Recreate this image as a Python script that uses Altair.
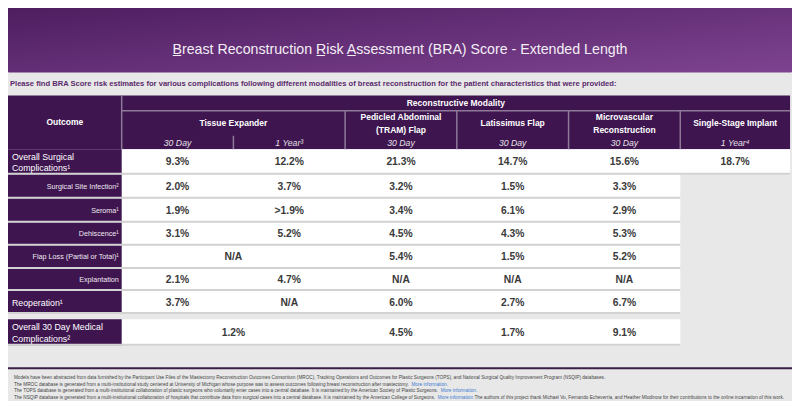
import altair as alt
import pandas as pd

# ------------------------------------------------------------------ data
title_text = ("B\u0332reast Reconstruction R\u0332isk A\u0332ssessment "
              "(BRA) Score - Extended Length")
subtitle_text = ("Please find BRA Score risk estimates for various complications following "
                 "different modalities of breast reconstruction for the patient "
                 "characteristics that were provided:")
outcome_header = "Outcome"
group_header = "Reconstructive Modality"
modalities = ["Tissue Expander", "Pedicled Abdominal\n(TRAM) Flap", "Latissimus Flap",
              "Microvascular\nReconstruction", "Single-Stage Implant"]
modality_columns = [2, 1, 1, 1, 1]          # how many time-frame columns each modality has
timeframes = ["30 Day", "1 Year\u00b3", "30 Day", "30 Day", "30 Day", "1 Year\u2074"]

outcomes = ["Overall Surgical\nComplications\u00b9", "Surgical Site Infection\u00b2",
            "Seroma\u00b9", "Dehiscence\u00b9", "Flap Loss (Partial or Total)\u00b9",
            "Explantation", "Reoperation\u00b9", "Overall 30 Day Medical\nComplications\u00b2"]
outcome_is_sub = [False, True, True, True, True, True, False, False]

# None in the 1-year column = merged with the 30-day cell; None elsewhere = no cell
tissue_expander_30d = ["9.3%", "2.0%", "1.9%", "3.1%", "N/A", "2.1%", "3.7%", "1.2%"]
tissue_expander_1y = ["12.2%", "3.7%", ">1.9%", "5.2%", None, "4.7%", "N/A", None]
pedicled_tram_30d = ["21.3%", "3.2%", "3.4%", "4.5%", "5.4%", "N/A", "6.0%", "4.5%"]
latissimus_30d = ["14.7%", "1.5%", "6.1%", "4.3%", "1.5%", "N/A", "2.7%", "1.7%"]
microvascular_30d = ["15.6%", "3.3%", "2.9%", "5.3%", "5.2%", "N/A", "6.7%", "9.1%"]
single_stage_1y = ["18.7%", None, None, None, None, None, None, None]

footnotes = [
    "Models have been abstracted from data furnished by the Participant Use Files of the Mastectomy "
    "Reconstruction Outcomes Consortium (MROC), Tracking Operations and Outcomes for Plastic Surgeons "
    "(TOPS), and National Surgical Quality Improvement Program (NSQIP) databases.",
    "The MROC database is generated from a multi-institutional study centered at University of Michigan "
    "whose purpose was to assess outcomes following breast reconstruction after mastectomy. ",
    "The TOPS database is generated from a multi-institutional collaboration of plastic surgeons who "
    "voluntarily enter cases into a central database. It is maintained by the American Society of "
    "Plastic Surgeons. ",
    "The NSQIP database is generated from a multi-institutional collaboration of hospitals that "
    "contribute data from surgical cases into a central database. It is maintained by the American "
    "College of Surgeons. ",
]
footnote_links = ["", "More information.", "More information.", "More information"]
footnote_tails = ["", "", "", " The authors of this project thank Michael Vu, Fernando Echeverria, "
                  "and Heather Mlodinow for their contributions to the online incarnation of this work."]

# ------------------------------------------------------------------ layout / style
FONT = "Liberation Sans, Arial, sans-serif"
PURPLE = "#3e154f"
BG = "#e8e8e8"
col_edges = [0, 116, 230, 344, 458, 572, 686, 798]
hdr_top, hdr_mid, hdr_sub, hdr_bot = 91, 107, 131, 147
row_top = [147, 173, 198, 223, 247, 271, 294, 324]
row_bot = [173, 198, 223, 247, 271, 294, 318, 351]

# layout is given in the reference picture's 800x409 frame
W, H = 784, 393
xs = alt.Scale(domain=[0, 800], nice=False, zero=False)
ys = alt.Scale(domain=[0, 409], nice=False, zero=False, reverse=True)
XK = W / 800.0

# Arial / Liberation Sans advance widths (1/1000 em), used to place the blue link texts
_AW = {" ": 278, "(": 333, ")": 333, ",": 278, "-": 333, ".": 278, ":": 278,
       "A": 667, "B": 667, "C": 722, "D": 722, "E": 667, "F": 611, "G": 778, "H": 722, "I": 278,
       "J": 500, "K": 667, "L": 556, "M": 833, "N": 722, "O": 778, "P": 667, "Q": 778, "R": 722,
       "S": 667, "T": 611, "U": 722, "V": 667, "W": 944, "X": 667, "Y": 667, "Z": 611,
       "a": 556, "b": 556, "c": 500, "d": 556, "e": 556, "f": 278, "g": 556, "h": 556, "i": 222,
       "j": 222, "k": 500, "l": 222, "m": 833, "n": 556, "o": 556, "p": 556, "q": 556, "r": 333,
       "s": 500, "t": 278, "u": 556, "v": 500, "w": 722, "x": 500, "y": 500, "z": 500}


def text_width(s, size):
    return sum(_AW.get(ch, 556) for ch in s) / 1000.0 * size


def enc_box():
    return dict(x=alt.X("x:Q", scale=xs, axis=None), x2="x2:Q",
                y=alt.Y("y:Q", scale=ys, axis=None), y2="y2:Q")


def enc_pt():
    return dict(x=alt.X("x:Q", scale=xs, axis=None), y=alt.Y("y:Q", scale=ys, axis=None))


def mid(a, b):
    return (a + b) / 2


def block_y(center, text, lh):
    # vega puts the first line at y; shift so the whole block is centred
    n = text.count("\n") + 1
    return center - (n - 1) * lh / 2


HDR_LH = 12.5
LAB_LH = 11.5
FOOT_SIZE = 4.7

# rectangles
rects = [dict(x=0, x2=col_edges[-1], y=hdr_top, y2=hdr_bot, c=PURPLE)]
columns = [tissue_expander_30d, tissue_expander_1y, pedicled_tram_30d,
           latissimus_30d, microvascular_30d, single_stage_1y]
value_rows = []
for r in range(len(outcomes)):
    right = col_edges[7] if single_stage_1y[r] is not None else col_edges[6]
    rects.append(dict(x=col_edges[1], x2=right, y=row_top[r], y2=row_bot[r], c="#ffffff"))
    rects.append(dict(x=0, x2=col_edges[1], y=row_top[r], y2=row_bot[r], c=PURPLE))
    for ci, col in enumerate(columns):
        v = col[r]
        if v is None:
            continue
        a, b = col_edges[ci + 1], col_edges[ci + 2]
        if ci == 0 and tissue_expander_1y[r] is None:
            b = col_edges[3]
        value_rows.append(dict(x=mid(a, b), y=mid(row_top[r], row_bot[r]) + 0.5, t=v))

# lines
LINE = "#8e7a98"
rules = [dict(x=col_edges[1], x2=col_edges[-1], y=hdr_mid, y2=hdr_mid, c=LINE, w=1.5),
         dict(x=col_edges[1], x2=col_edges[1], y=hdr_top, y2=hdr_bot, c=LINE, w=1.5),
         dict(x=col_edges[2], x2=col_edges[2], y=hdr_sub + 2, y2=hdr_bot, c=LINE, w=1.5)]
for e in col_edges[3:7]:
    rules.append(dict(x=e, x2=e, y=hdr_mid, y2=hdr_bot, c=LINE, w=1.5))
for r in range(len(outcomes)):
    right = col_edges[7] if single_stage_1y[r] is not None else col_edges[6]
    rules.append(dict(x=0, x2=right, y=row_bot[r] - 0.5, y2=row_bot[r] - 0.5, c="#d2d2d2", w=2))
rules.append(dict(x=-5, x2=805, y=375, y2=375, c="#3b1f48", w=2))

# header texts
hdr_texts = [dict(x=mid(col_edges[0], col_edges[1]), y=119, t=outcome_header),
             dict(x=mid(col_edges[1], col_edges[7]), y=99, t=group_header)]
k = 1
for m, n in zip(modalities, modality_columns):
    hdr_texts.append(dict(x=mid(col_edges[k], col_edges[k + n]), y=block_y(120, m, HDR_LH), t=m))
    k += n
sub_texts = [dict(x=mid(col_edges[i + 1], col_edges[i + 2]), y=140.5, t=t)
             for i, t in enumerate(timeframes)]
main_labels = [dict(x=4, y=block_y(mid(row_top[r], row_bot[r]) + 0.5, o, LAB_LH), t=o)
               for r, o in enumerate(outcomes) if not outcome_is_sub[r]]
sub_labels = [dict(x=113, y=mid(row_top[r], row_bot[r]) + 0.5, t=o)
              for r, o in enumerate(outcomes) if outcome_is_sub[r]]

foot_y = [385, 392, 399, 405.5]
FOOT_X = 6
foot_gray, foot_blue = [], []
for i in range(4):
    foot_gray.append(dict(x=FOOT_X, y=foot_y[i], t=footnotes[i]))
    if footnote_links[i]:
        lx = FOOT_X + text_width(footnotes[i], FOOT_SIZE) / XK
        foot_blue.append(dict(x=lx, y=foot_y[i], t=footnote_links[i]))
        if footnote_tails[i]:
            # svg drops a leading blank, so its width is added to the position instead
            tx = lx + text_width(footnote_links[i] + " ", FOOT_SIZE) / XK
            foot_gray.append(dict(x=tx, y=foot_y[i], t=footnote_tails[i].lstrip()))

# ------------------------------------------------------------------ chart
title_bar = alt.Chart(pd.DataFrame([dict(x=-5, x2=805, y=-20, y2=67)])).mark_rect(
    cornerRadius=6,
    fill=alt.Gradient(gradient="linear",
                      stops=[alt.GradientStop(color="#47195a", offset=0),
                             alt.GradientStop(color="#7e4390", offset=1)],
                      x1=0, y1=0, x2=1, y2=1),
).encode(**enc_box())

title = alt.Chart(pd.DataFrame([dict(x=400, y=44, t=title_text)])).mark_text(
    font=FONT, fontSize=14.2, color="#f4eef6", align="center", baseline="middle"
).encode(text="t:N", **enc_pt())

subtitle = alt.Chart(pd.DataFrame([dict(x=2, y=79, t=subtitle_text)])).mark_text(
    font=FONT, fontSize=7.6, fontWeight="bold", color="#5a2a6c", align="left", baseline="middle"
).encode(text="t:N", **enc_pt())

rect_layer = alt.Chart(pd.DataFrame(rects)).mark_rect().encode(
    color=alt.Color("c:N", scale=None), **enc_box())

rule_layer = alt.Chart(pd.DataFrame(rules)).mark_rule().encode(
    color=alt.Color("c:N", scale=None),
    strokeWidth=alt.StrokeWidth("w:Q", scale=None), **enc_box())

hdr_layer = alt.Chart(pd.DataFrame(hdr_texts)).mark_text(
    font=FONT, fontSize=8.5, fontWeight="bold", color="#ffffff", align="center",
    baseline="middle", lineBreak="\n", lineHeight=HDR_LH
).encode(text="t:N", **enc_pt())

sub_layer = alt.Chart(pd.DataFrame(sub_texts)).mark_text(
    font=FONT, fontSize=8.7, fontStyle="italic", color="#e6e0e8", align="center", baseline="middle"
).encode(text="t:N", **enc_pt())

val_layer = alt.Chart(pd.DataFrame(value_rows)).mark_text(
    font=FONT, fontSize=10.3, fontWeight="bold", color="#3a3a3a", align="center", baseline="middle"
).encode(text="t:N", **enc_pt())

main_lab_layer = alt.Chart(pd.DataFrame(main_labels)).mark_text(
    font=FONT, fontSize=8.8, color="#ffffff", align="left", baseline="middle",
    lineBreak="\n", lineHeight=LAB_LH
).encode(text="t:N", **enc_pt())

sub_lab_layer = alt.Chart(pd.DataFrame(sub_labels)).mark_text(
    font=FONT, fontSize=7.2, color="#f0eaf2", align="right", baseline="middle"
).encode(text="t:N", **enc_pt())

foot_style = dict(font=FONT, fontSize=FOOT_SIZE, align="left", baseline="middle")
foot_a = alt.Chart(pd.DataFrame(foot_gray)).mark_text(color="#444444", **foot_style).encode(
    text="t:N", **enc_pt())
foot_b = alt.Chart(pd.DataFrame(foot_blue)).mark_text(color="#3b7bd0", **foot_style).encode(
    text="t:N", **enc_pt())

chart = alt.layer(
    title_bar, title, subtitle, rect_layer, rule_layer, hdr_layer, sub_layer, val_layer,
    main_lab_layer, sub_lab_layer, foot_a, foot_b
).properties(
    width=W, height=H, padding=0, background=BG,
    autosize=alt.AutoSizeParams(type="none"),
).configure_view(stroke=None)

chart.save("out.html", embed_options={"renderer": "svg", "actions": False})
